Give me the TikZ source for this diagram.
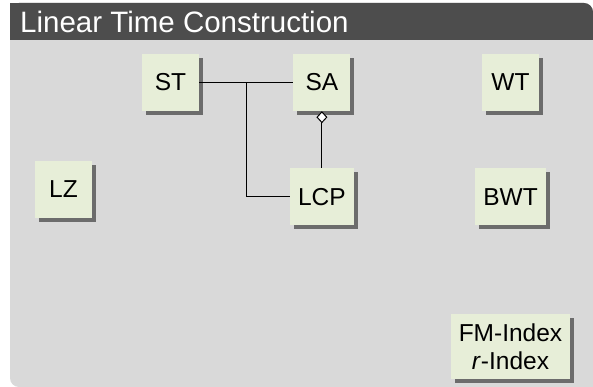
\documentclass[tikz,border=0pt]{standalone}
\usepackage{fontspec}
\setmainfont{Liberation Sans}
\usetikzlibrary{positioning,shadows,arrows.meta,calc}
\definecolor{headgray}{RGB}{77,77,77}
\definecolor{bodygray}{RGB}{217,217,217}
\definecolor{boxgreen}{RGB}{231,238,216}
\definecolor{shadowgray}{RGB}{108,108,108}

\begin{document}
\begin{tikzpicture}[x=1pt,y=-1pt,
            box/.style={
                rectangle, fill=boxgreen, minimum width=57pt, minimum height=57pt,
                inner xsep=8pt, inner ysep=4pt, font=\fontsize{24.5}{28}\selectfont,
                drop shadow={shadow xshift=4pt, shadow yshift=-4pt, fill=shadowgray, opacity=1}},
            link/.style={draw=black, line width=1pt}]

            \useasboundingbox (0,0) rectangle (593,387);
            % frame
            \fill [bodygray, rounded corners=9pt] (10,3) rectangle (593,387);
            \fill [bodygray] (553,347) rectangle (593,387);
            \fill [headgray, rounded corners=9pt] (10,3) rectangle (593,40);
            \fill [headgray] (10,3) rectangle (40,40);
            \fill [headgray] (553,20) rectangle (593,40);
            \node [anchor=base west, inner sep=0pt, text=white,
                font=\fontsize{29.5}{34}\selectfont] (title) at (20,33) {Linear Time Construction};

            \node [box] (ST) at (170.5,82.5) {ST};
            \node [box,right=94pt of ST] (SA) {SA};
            \node [box,below=57pt of SA] (LCP) {LCP};
            \node [box] (LZ) at (63.5,189.5) {LZ};
            \node [box] (WT) at (510.5,82.5) {WT};
            \node [box,below=57pt of WT] (BWT) {BWT};
            \node [box,align=center,minimum height=65pt] (FM) at (510.5,346.5) {FM-Index\\\textit{r}-Index};

            \coordinate (join) at ($(ST.east)!0.5!(SA.west)$);
            \draw [link] (ST) -- (SA);
            \draw [link] (LCP.west) -| (join);
            \draw [link,{Diamond[fill=white,length=12pt,width=11pt,line width=1pt]}-] (SA) -- (LCP);
        \end{tikzpicture}
\end{document}
